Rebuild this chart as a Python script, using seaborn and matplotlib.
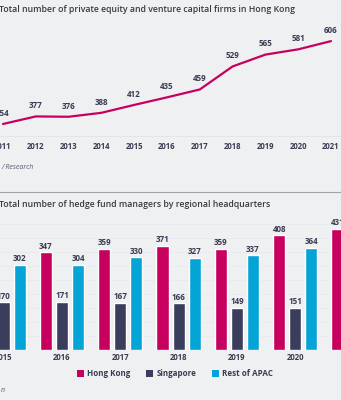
import matplotlib
matplotlib.use("Agg")
import matplotlib.pyplot as plt
import seaborn as sns
import pandas as pd
from matplotlib.patches import Patch

# ---- data ----
pe_years = [2011, 2012, 2013, 2014, 2015, 2016, 2017, 2018, 2019, 2020, 2021]
pe_firms = [354, 377, 376, 388, 412, 435, 459, 529, 565, 581, 606]

hf_years = ["2015", "2016", "2017", "2018", "2019", "2020", "2021"]
hf_hong_kong = [334, 347, 359, 371, 359, 408, 431]
hf_singapore = [170, 171, 167, 166, 149, 151, 152]
hf_rest_apac = [302, 304, 330, 327, 337, 364, 380]
series_names = ["Hong Kong", "Singapore", "Rest of APAC"]

BG = "#eff0f2"
MAGENTA = "#c7005f"
NAVY = "#3b3d5c"
CYAN = "#04a5d6"
TXT = "#3a3d52"
NUMW = "bold"

sns.set_theme(style="white")
plt.rcParams["font.family"] = ["Open Sans", "DejaVu Sans"]

W, H = 341, 400
fig = plt.figure(figsize=(W / 100, H / 100), dpi=100, facecolor=BG)

def ax_rect(top_px, bottom_px):
    return [0, 1 - bottom_px / H, 1, (bottom_px - top_px) / H]

# ---- top chart: line ----
ax1 = fig.add_axes(ax_rect(25, 136), facecolor=BG)
pe_df = pd.DataFrame({"year": pe_years, "firms": pe_firms})
sns.lineplot(data=pe_df, x="year", y="firms", ax=ax1, color=MAGENTA, linewidth=1.6)
px_per_year = 32.8
ax1.set_xlim(2011 - 3 / px_per_year, 2011 + (W - 3) / px_per_year)
ax1.set_ylim(317.5, 655)
for x, y in zip(pe_years, pe_firms):
    ax1.annotate(str(y), (x, y), xytext=(0, 4.5), textcoords="offset points",
                 ha="center", va="bottom", fontsize=5.8, color=TXT, fontweight=NUMW)
ax1.set_xticks(pe_years)
ax1.set_xticklabels([str(y) for y in pe_years], fontsize=5.6, color=TXT, fontweight=NUMW)
ax1.tick_params(axis="x", length=0, pad=4.5)
ax1.set_yticks([])
ax1.set_xlabel("")
ax1.set_ylabel("")
for s in ["top", "left", "right"]:
    ax1.spines[s].set_visible(False)
ax1.spines["bottom"].set_color("#e2e3e6")
ax1.spines["bottom"].set_linewidth(0.6)

# ---- bottom chart: bars ----
ax2 = fig.add_axes(ax_rect(220.7, 350), facecolor=BG)
bar_df = pd.DataFrame({
    "year": hf_years * 3,
    "series": [series_names[0]] * 7 + [series_names[1]] * 7 + [series_names[2]] * 7,
    "count": hf_hong_kong + hf_singapore + hf_rest_apac,
})
sns.barplot(data=bar_df, x="year", y="count", hue="series", hue_order=series_names,
            palette=[MAGENTA, NAVY, CYAN], width=0.825, gap=0.24, ax=ax2,
            saturation=1, legend=False)
px_per_cat = 58.3
ax2.set_xlim(-3.7 / px_per_cat, (W - 3.7) / px_per_cat)
ax2.set_ylim(0, 460)
ax2.set_yticks(range(50, 460, 50))
ax2.yaxis.grid(True, color="#e7e8eb", linewidth=0.5)
ax2.set_axisbelow(True)
ax2.tick_params(axis="y", length=0, labelleft=False)
ax2.tick_params(axis="x", length=0, pad=2.5)
for lbl in ax2.get_xticklabels():
    lbl.set_fontsize(5.6)
    lbl.set_color(TXT)
    lbl.set_fontweight(NUMW)
for cont in ax2.containers:
    ax2.bar_label(cont, padding=1.2, fontsize=5.8, color=TXT, fontweight=NUMW)
ax2.set_xlabel("")
ax2.set_ylabel("")
for s in ax2.spines.values():
    s.set_visible(False)

handles = [Patch(facecolor=c, edgecolor="none") for c in [MAGENTA, NAVY, CYAN]]
fig.legend(handles, series_names, loc="center", bbox_to_anchor=(175 / W, 1 - 374 / H),
           ncol=3, frameon=False, handlelength=0.85, handleheight=0.85, handletextpad=0.4,
           columnspacing=2.0, prop={"size": 5.8, "weight": "bold"}, labelcolor=TXT)

# ---- titles and notes ----
fig.text(-0.004, 1 - 10 / H, "Total number of private equity and venture capital firms in Hong Kong",
         fontsize=6.3, color="#3a3a3a", fontweight="semibold", va="center", ha="left")
fig.text(0.003, 1 - 168 / H, "/ Research", fontsize=5, color="#555a6a",
         style="italic", va="center", ha="left")
fig.add_artist(plt.Line2D([0, 1], [1 - 192 / H, 1 - 192 / H], color="#a0a2a8", linewidth=0.8))
fig.text(-0.004, 1 - 205 / H, "Total number of hedge fund managers by regional headquarters",
         fontsize=6.3, color="#3a3a3a", fontweight="semibold", va="center", ha="left")
fig.text(0.003, 1 - 390 / H, "n", fontsize=5, color="#555a6a",
         style="italic", va="center", ha="left")

fig.savefig("out.png", dpi=100, facecolor=BG)
